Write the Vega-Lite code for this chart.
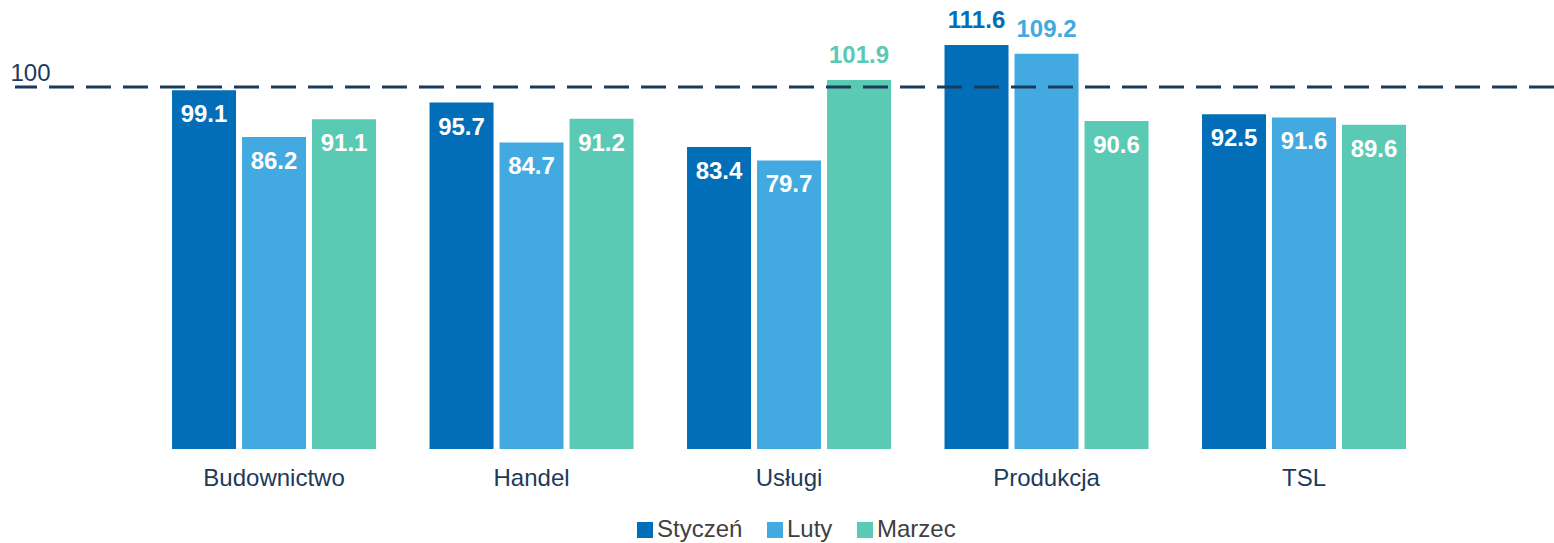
{
  "$schema": "https://vega.github.io/schema/vega-lite/v6.json",
  "width": 1539,
  "height": 449,
  "autosize": {"type": "none"},
  "padding": {"left": 15, "top": 0, "right": 0, "bottom": 94},
  "background": "white",
  "config": {
    "view": {"stroke": null},
    "font": "Liberation Sans"
  },
  "data": {
    "values": [
      {"sector": "Budownictwo", "month": "Styczeń", "value": 99.1},
      {"sector": "Budownictwo", "month": "Luty", "value": 86.2},
      {"sector": "Budownictwo", "month": "Marzec", "value": 91.1},
      {"sector": "Handel", "month": "Styczeń", "value": 95.7},
      {"sector": "Handel", "month": "Luty", "value": 84.7},
      {"sector": "Handel", "month": "Marzec", "value": 91.2},
      {"sector": "Usługi", "month": "Styczeń", "value": 83.4},
      {"sector": "Usługi", "month": "Luty", "value": 79.7},
      {"sector": "Usługi", "month": "Marzec", "value": 101.9},
      {"sector": "Produkcja", "month": "Styczeń", "value": 111.6},
      {"sector": "Produkcja", "month": "Luty", "value": 109.2},
      {"sector": "Produkcja", "month": "Marzec", "value": 90.6},
      {"sector": "TSL", "month": "Styczeń", "value": 92.5},
      {"sector": "TSL", "month": "Luty", "value": 91.6},
      {"sector": "TSL", "month": "Marzec", "value": 89.6}
    ]
  },
  "encoding": {
    "x": {
      "field": "sector",
      "type": "nominal",
      "sort": ["Budownictwo", "Handel", "Usługi", "Produkcja", "TSL"],
      "scale": {"paddingInner": 0, "paddingOuter": 0.4884, "align": 0.518},
      "axis": {
        "title": null,
        "labelAngle": 0,
        "labelFontSize": 24,
        "labelColor": "#1d3a5a",
        "labelPadding": 17,
        "domain": false,
        "ticks": false,
        "tickSize": 0,
        "grid": false
      }
    },
    "xOffset": {
      "field": "month",
      "type": "nominal",
      "sort": ["Styczeń", "Luty", "Marzec"],
      "scale": {"paddingInner": 0.0857, "paddingOuter": 0.382}
    },
    "y": {
      "field": "value",
      "type": "quantitative",
      "scale": {"domain": [0, 124.03], "nice": false, "zero": true},
      "axis": {
        "title": null,
        "values": [100],
        "domain": false,
        "ticks": false,
        "tickSize": 0,
        "grid": false,
        "labelAlign": "left",
        "labelBaseline": "alphabetic",
        "labelPadding": 5,
        "labelOffset": -6,
        "labelFontSize": 24,
        "labelColor": "#1d3a5a"
      }
    }
  },
  "layer": [
    {
      "mark": {"type": "bar"},
      "encoding": {
        "color": {
          "field": "month",
          "type": "nominal",
          "sort": ["Styczeń", "Luty", "Marzec"],
          "scale": {"domain": ["Styczeń", "Luty", "Marzec"], "range": ["#036EB8", "#42AAE1", "#5ACAB4"]},
          "legend": {
            "title": null,
            "orient": "none",
            "direction": "horizontal",
            "legendX": 618,
            "legendY": 518,
            "padding": 0,
            "symbolType": "square",
            "symbolSize": 256,
            "symbolStrokeWidth": 0,
            "labelFontSize": 24,
            "labelColor": "#404040",
            "labelOffset": 0,
            "columnPadding": 20
          }
        }
      }
    },
    {
      "transform": [{"filter": "datum.value < 100"}],
      "mark": {"type": "text", "dy": 25, "baseline": "middle", "fontSize": 24, "fontWeight": "bold", "color": "white"},
      "encoding": {
        "text": {"field": "value", "type": "quantitative", "format": ".1f"}
      }
    },
    {
      "transform": [{"filter": "datum.value >= 100"}],
      "mark": {"type": "text", "dy": -24, "baseline": "middle", "fontSize": 24, "fontWeight": "bold"},
      "encoding": {
        "text": {"field": "value", "type": "quantitative", "format": ".1f"},
        "color": {"field": "month", "type": "nominal", "legend": null}
      }
    },
    {
      "data": {"values": [{"ref": 100}]},
      "mark": {"type": "rule", "color": "#1d3a5a", "strokeWidth": 3, "strokeDash": [25, 12]},
      "encoding": {
        "y": {"field": "ref", "type": "quantitative"},
        "x": null,
        "xOffset": null
      }
    }
  ]
}
